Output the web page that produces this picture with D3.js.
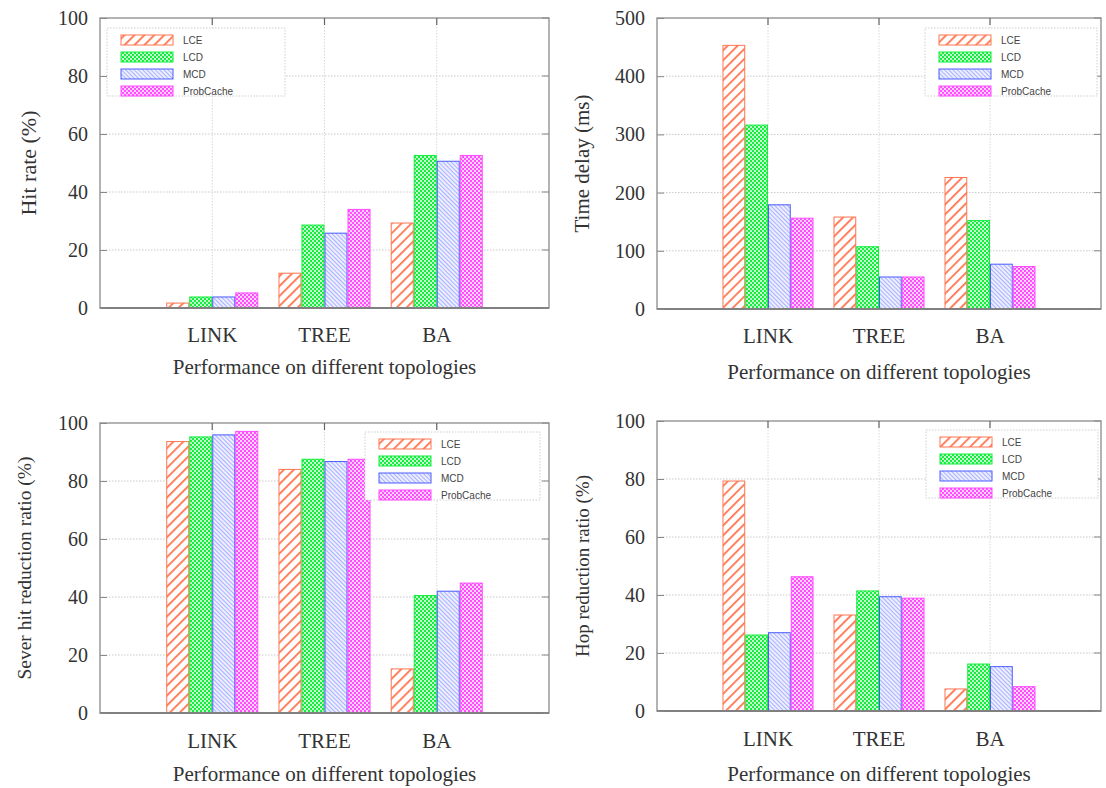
<!DOCTYPE html>
<html><head><meta charset="utf-8">
<script src="https://cdn.jsdelivr.net/npm/d3@7"></script>
<style>body{margin:0;background:#fff}</style>
</head><body><svg id="c" width="1106" height="788"></svg>
<script>
const categories = ["LINK", "TREE", "BA"];
const seriesNames = ["LCE", "LCD", "MCD", "ProbCache"];
// values per series (rows) for each category (columns)
const hitRate = [[1.7, 12, 29.3], [3.8, 28.6, 52.6], [3.8, 25.8, 50.6], [5.2, 34, 52.6]];
const timeDelay = [[453, 158, 226], [316, 107, 152], [179, 55, 77], [156, 55, 73]];
const severHit = [[93.6, 84, 15.2], [95.2, 87.5, 40.5], [95.9, 86.7, 42], [97.1, 87.5, 44.8]];
const hopReduction = [[79.3, 33.1, 7.6], [26.2, 41.4, 16.2], [27, 39.4, 15.3], [46.3, 38.9, 8.4]];
const yTicks100 = [0, 20, 40, 60, 80, 100];
const yTicks500 = [0, 100, 200, 300, 400, 500];
const xTitle = "Performance on different topologies";

const panels = [
  {data: hitRate, max: 100, ticks: yTicks100, ytitle: "Hit rate (%)", yfs: 22,
   l: 100, r: 549, t: 18, b: 308, ytx: 28, leg: [107, 28, 178], catY: 342, titleY: 374},
  {data: timeDelay, max: 500, ticks: yTicks500, ytitle: "Time delay (ms)", yfs: 21,
   l: 657, r: 1101, t: 18, b: 309, ytx: 582, leg: [925, 28, 172], catY: 343, titleY: 379},
  {data: severHit, max: 100, ticks: yTicks100, ytitle: "Sever hit reduction ratio (%)", yfs: 19.5,
   l: 100, r: 549, t: 423, b: 713, ytx: 24, leg: [365, 432, 175], catY: 748, titleY: 781},
  {data: hopReduction, max: 100, ticks: yTicks100, ytitle: "Hop reduction ratio  (%)", yfs: 19,
   l: 657, r: 1101, t: 421, b: 711, ytx: 582, leg: [926, 430, 172], catY: 746, titleY: 781}
];

const svg = d3.select("#c");
const defs = svg.append("defs");
const colors = {LCE: "#ff7550", LCD: "#14ee3e", MCD: "#4a5cff", ProbCache: "#ff4cff"};

// LCE: "/" stripes
let p = defs.append("pattern").attr("id", "pat-LCE").attr("patternUnits", "userSpaceOnUse")
  .attr("width", 7).attr("height", 7).attr("patternTransform", "rotate(45)");
p.append("rect").attr("width", 7).attr("height", 7).attr("fill", "#fff");
p.append("rect").attr("x", 0).attr("width", 1.8).attr("height", 7).attr("fill", colors.LCE);
// MCD: "\" dense thin hatch
p = defs.append("pattern").attr("id", "pat-MCD").attr("patternUnits", "userSpaceOnUse")
  .attr("width", 3).attr("height", 3).attr("patternTransform", "rotate(-45)");
p.append("rect").attr("width", 3).attr("height", 3).attr("fill", "#eceeff");
p.append("rect").attr("width", 0.8).attr("height", 3).attr("fill", "#9aa3ff");
// LCD and ProbCache: coloured with white dots
["LCD", "ProbCache"].forEach(s => {
  const q = defs.append("pattern").attr("id", "pat-" + s).attr("patternUnits", "userSpaceOnUse")
    .attr("width", 4).attr("height", 4);
  q.append("rect").attr("width", 4).attr("height", 4).attr("fill", colors[s]);
  q.append("circle").attr("cx", 1).attr("cy", 1).attr("r", 1.0).attr("fill", "#fff");
  q.append("circle").attr("cx", 3).attr("cy", 3).attr("r", 1.0).attr("fill", "#fff");
});

panels.forEach(P => {
  const g = svg.append("g");
  const x = d3.scalePoint().domain(categories).range([P.l, P.r]).padding(1);
  const step = x.step();
  const xs = d3.scaleBand().domain(seriesNames).range([-0.41 * step, 0.41 * step]);
  const y = d3.scaleLinear().domain([0, P.max]).range([P.b, P.t]);

  // grid
  g.selectAll(".hg").data(P.ticks.filter(v => v > 0 && v < P.max)).join("line")
    .attr("x1", P.l).attr("x2", P.r).attr("y1", d => y(d)).attr("y2", d => y(d))
    .attr("stroke", "#c8c8c8").attr("stroke-width", 1).attr("stroke-dasharray", "1.5,1.5");
  g.selectAll(".vg").data(categories).join("line")
    .attr("x1", d => x(d)).attr("x2", d => x(d)).attr("y1", P.t).attr("y2", P.b)
    .attr("stroke", "#d8d8d8").attr("stroke-width", 1).attr("stroke-dasharray", "1.5,1.5");

  // bars
  seriesNames.forEach((s, si) => {
    g.selectAll(".b" + si).data(categories).join("rect")
      .attr("x", c => x(c) + xs(s) + 0.5)
      .attr("y", (c, ci) => y(P.data[si][ci]))
      .attr("width", xs.bandwidth() - 1)
      .attr("height", (c, ci) => y(0) - y(P.data[si][ci]))
      .attr("fill", "url(#pat-" + s + ")")
      .attr("stroke", colors[s]).attr("stroke-width", 1);
  });

  // frame
  g.append("rect").attr("x", P.l).attr("y", P.t).attr("width", P.r - P.l).attr("height", P.b - P.t)
    .attr("fill", "none").attr("stroke", "#9a9a9a").attr("stroke-width", 1.5);
  g.append("line").attr("x1", P.l).attr("x2", P.r).attr("y1", P.b).attr("y2", P.b)
    .attr("stroke", "#808080").attr("stroke-width", 1.8);

  // y axis
  const ya = d3.axisLeft(y).tickValues(P.ticks).tickSize(-7).tickPadding(12).tickFormat(d3.format("d"));
  const yg = g.append("g").attr("transform", `translate(${P.l},0)`).call(ya);
  yg.select(".domain").remove();
  yg.selectAll("line").attr("stroke", "#888");
  yg.selectAll("text").attr("font-family", "Liberation Serif, Times New Roman, serif")
    .attr("font-size", 20).attr("fill", "#333");
  // right ticks
  g.selectAll(".rt").data(P.ticks).join("line")
    .attr("x1", P.r).attr("x2", P.r - 7).attr("y1", d => y(d)).attr("y2", d => y(d))
    .attr("stroke", "#888");
  // x axis: top ticks and bottom labels
  g.selectAll(".tt").data(categories).join("line")
    .attr("x1", d => x(d)).attr("x2", d => x(d)).attr("y1", P.t).attr("y2", P.t + 7)
    .attr("stroke", "#666").attr("stroke-width", 1.2);
  g.selectAll(".cl").data(categories).join("text")
    .attr("x", d => x(d)).attr("y", P.catY).attr("text-anchor", "middle")
    .attr("font-family", "Liberation Serif, Times New Roman, serif").attr("font-size", 21)
    .attr("fill", "#333").text(d => d);
  g.append("text").attr("x", (P.l + P.r) / 2).attr("y", P.titleY).attr("text-anchor", "middle")
    .attr("font-family", "Liberation Serif, Times New Roman, serif").attr("font-size", 21)
    .attr("fill", "#333").text(xTitle);
  g.append("text").attr("transform", `translate(${P.ytx},${(P.t + P.b) / 2}) rotate(-90)`)
    .attr("text-anchor", "middle").attr("dominant-baseline", "central")
    .attr("font-family", "Liberation Serif, Times New Roman, serif").attr("font-size", P.yfs)
    .attr("fill", "#333").text(P.ytitle);

  // legend
  const [lx, ly, lw] = P.leg;
  const lg = g.append("g");
  lg.append("rect").attr("x", lx).attr("y", ly).attr("width", lw).attr("height", 68)
    .attr("fill", "#fff").attr("stroke", "#cfcfcf").attr("stroke-dasharray", "1.5,1.5");
  seriesNames.forEach((s, i) => {
    const ry = ly + 7 + i * 17;
    lg.append("rect").attr("x", lx + 14).attr("y", ry).attr("width", 52).attr("height", 10)
      .attr("fill", "url(#pat-" + s + ")").attr("stroke", colors[s]).attr("stroke-width", 1);
    lg.append("text").attr("x", lx + 76).attr("y", ry + 9)
      .attr("font-family", "Liberation Sans, Arial, sans-serif").attr("font-size", 10)
      .attr("fill", "#444").text(s);
  });
});
</script></body></html>
